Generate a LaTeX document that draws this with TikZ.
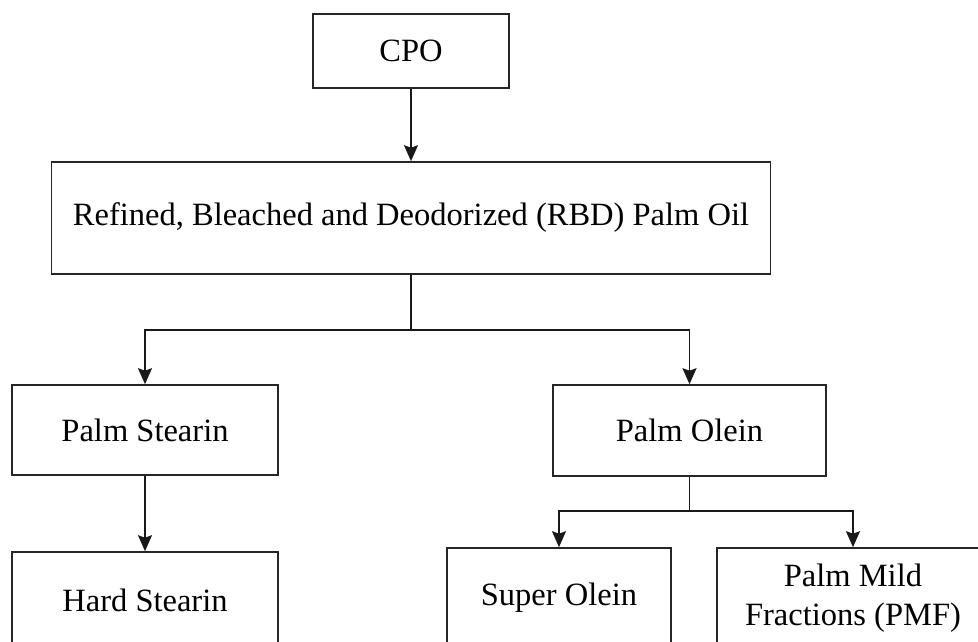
\documentclass[tikz,border=0pt]{standalone}
\usepackage{fontspec}
\setmainfont{Liberation Serif}
\usetikzlibrary{arrows.meta, positioning}

\begin{document}
\begin{tikzpicture}[
    every node/.style={font=\fontsize{18.5}{22.5}\selectfont},
    >={Stealth[length=0.32cm, width=0.28cm, inset=0.05cm]},
    stagebox/.style={draw=black!85, line width=0.9pt, align=center, inner sep=0pt},
    link/.style={line width=0.9pt, black!90},
]

% === Canvas ===
\useasboundingbox (0,0) rectangle (19.56,12.84);

% === Split levels ===
\def\splitA{6.24}   % branch line below RBD
\def\splitB{2.62}   % branch line below olein

% === Stages ===
\node[stagebox, minimum width=3.92cm, minimum height=1.48cm] (cpo) at (8.22,11.82) {CPO};
\node[stagebox, minimum width=14.38cm, minimum height=2.24cm] (rbd) at (8.22,8.48)
    {Refined, Bleached and Deodorized (RBD) Palm Oil};

% Fractions of RBD
\node[stagebox, minimum width=5.32cm, minimum height=1.80cm] (stearin) at (2.90,4.24) {Palm Stearin};
\node[stagebox, minimum width=5.46cm, minimum height=1.82cm] (olein) at (13.79,4.23) {Palm Olein};

% Further fractions
\node[stagebox, minimum width=5.32cm, minimum height=1.92cm] (hard) at (2.90,0.84) {Hard Stearin};
\node[stagebox, minimum width=4.48cm, minimum height=2.00cm] (super) at (11.18,0.88) {Super Olein};
\node[stagebox, minimum width=5.44cm, minimum height=2.00cm] (pmf) at (17.06,0.88)
    {Palm Mild\\Fractions (PMF)};

% === Connectors ===
\draw[link, ->] (cpo) -- (rbd);

\coordinate (rbdsplit) at (8.22,\splitA);
\draw[link] (rbd) -- (rbdsplit);
\draw[link, ->] (rbdsplit) -| (stearin.north);
\draw[link, ->] (rbdsplit) -| (olein.north);

\draw[link, ->] (stearin) -- (hard);

\coordinate (oleinsplit) at (13.79,\splitB);
\draw[link] (olein) -- (oleinsplit);
\draw[link, ->] (oleinsplit) -| (super.north);
\draw[link, ->] (oleinsplit) -| (pmf.north);

\end{tikzpicture}
\end{document}
